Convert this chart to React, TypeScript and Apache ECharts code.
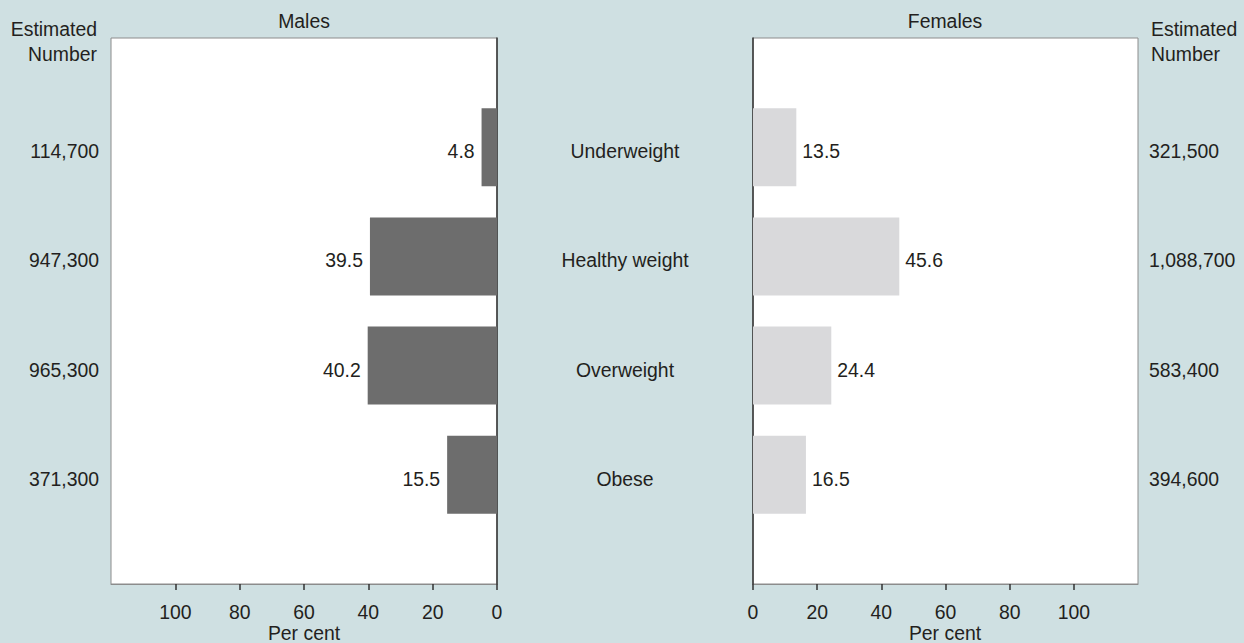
import React, { useEffect, useRef } from "react";
import * as echarts from "echarts";

const categories = ["Underweight", "Healthy weight", "Overweight", "Obese"];
const malesPct = [4.8, 39.5, 40.2, 15.5];
const femalesPct = [13.5, 45.6, 24.4, 16.5];
const malesNumber = ["114,700", "947,300", "965,300", "371,300"];
const femalesNumber = ["321,500", "1,088,700", "583,400", "394,600"];
const xTicks = [0, 20, 40, 60, 80, 100];
const xTitle = "Per cent";

const FONT = "'Liberation Sans', Arial, Helvetica, sans-serif";
const FS = 19.4;
const TXT = "#231f20";

export default function App() {
  const ref = useRef<HTMLDivElement>(null);
  useEffect(() => {
    if (!ref.current) return;
    const chart = echarts.init(ref.current, null, { renderer: "svg" });
    const pad = (a: any[], v: any) => [v, ...a, v];
    const cat = pad(categories, "");
    const mNum = pad(malesNumber, "");
    const fNum = pad(femalesNumber, "");
    const mData = pad(malesPct, "-");
    const fData = pad(femalesPct, "-");

    const gridBase = {
      top: 38,
      height: 546,
      show: true,
      backgroundColor: "#ffffff",
      borderColor: "#8c8c8c",
      borderWidth: 1,
      outerBoundsMode: "none",
      containLabel: false,
    };

    const xBase = (inverse: boolean, gridIndex: number) => ({
      type: "value",
      gridIndex,
      min: 0,
      max: 120,
      inverse,
      splitLine: { show: false },
      axisLine: { show: true, lineStyle: { color: "#8c8c8c", width: 1 } },
      axisTick: {
        show: true,
        length: 6,
        customValues: xTicks,
        lineStyle: { color: "#333333", width: 1.5 },
      },
      axisLabel: {
        customValues: xTicks,
        margin: 18,
        fontSize: FS,
        fontFamily: FONT,
        color: TXT,
      },
    });

    const yBase = (gridIndex: number, position: string, data: string[]) => ({
      type: "category",
      gridIndex,
      position,
      data,
      inverse: true,
      boundaryGap: false,
      axisTick: { show: false },
      splitLine: { show: false },
    });

    const lab = {
      interval: 0,
      fontSize: FS,
      fontFamily: FONT,
      color: TXT,
      verticalAlign: "top",
      lineHeight: 8,
    };

    const txt = (text: string, x: number, y: number, align: string, extra: any = {}) => ({
      type: "text",
      x,
      y,
      style: {
        text,
        fontSize: FS,
        fontFamily: FONT,
        fill: TXT,
        align,
        verticalAlign: "middle",
        ...extra,
      },
    });

    const option: any = {
      animation: false,
      backgroundColor: "#cfe0e2",
      textStyle: { fontFamily: FONT },
      grid: [
        { ...gridBase, left: 111, width: 386 },
        { ...gridBase, left: 753, width: 385 },
      ],
      xAxis: [xBase(true, 0), xBase(false, 1)],
      yAxis: [
        {
          ...yBase(0, "right", cat),
          axisLine: { show: true, lineStyle: { color: "#333333", width: 1.5 } },
          axisLabel: { ...lab, align: "center", margin: 128 },
        },
        {
          ...yBase(0, "left", mNum),
          axisLine: { show: false },
          axisLabel: { ...lab, margin: 12 },
        },
        {
          ...yBase(1, "left", cat),
          axisLine: { show: true, lineStyle: { color: "#333333", width: 1.5 } },
          axisLabel: { show: false },
        },
        {
          ...yBase(1, "right", fNum),
          axisLine: { show: false },
          axisLabel: { ...lab, margin: 11 },
        },
      ],
      series: [
        {
          type: "bar",
          name: "Males",
          xAxisIndex: 0,
          yAxisIndex: 0,
          data: mData,
          barWidth: 78,
          itemStyle: { color: "#6d6d6d" },
          label: {
            show: true,
            position: "left",
            distance: 7,
            offset: [0, 4],
            fontSize: FS,
            fontFamily: FONT,
            color: TXT,
            formatter: (p: any) => Number(p.value).toFixed(1),
          },
        },
        {
          type: "bar",
          name: "Females",
          xAxisIndex: 1,
          yAxisIndex: 2,
          data: fData,
          barWidth: 78,
          itemStyle: { color: "#d9d9db" },
          label: {
            show: true,
            position: "right",
            distance: 6,
            offset: [0, 4],
            fontSize: FS,
            fontFamily: FONT,
            color: TXT,
            formatter: (p: any) => Number(p.value).toFixed(1),
          },
        },
      ],
      graphic: [
        txt("Males", 304, 21, "center"),
        txt("Females", 945, 21, "center"),
        txt(xTitle, 304, 633, "center"),
        txt(xTitle, 945, 633, "center"),
        txt("Estimated\nNumber", 97, 41, "right", { lineHeight: 25 }),
        txt("Estimated\nNumber", 1151, 41, "left", { lineHeight: 25 }),
      ],
    };
    chart.setOption(option);
    return () => chart.dispose();
  }, []);
  return (
    <div
      ref={ref}
      style={{ position: "fixed", left: 0, top: 0, width: 1244, height: 643 }}
    />
  );
}
